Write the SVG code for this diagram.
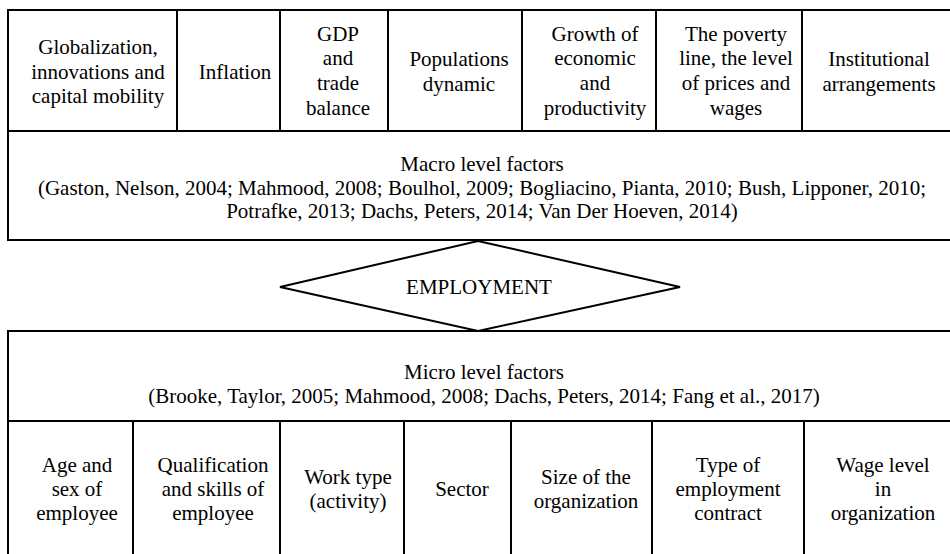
<svg xmlns="http://www.w3.org/2000/svg" width="950" height="554" viewBox="0 0 950 554">
<style>
.c{fill:#fff;stroke:#000;stroke-width:2}
.t{font-family:"Liberation Serif","Tinos","DejaVu Serif","Times New Roman",serif;font-size:21px;fill:#000;text-anchor:middle}
</style>
<rect x="0" y="0" width="950" height="554" fill="#fff"/>
<g id="macro-row">
<g id="n-globalization"><rect class="c" x="8" y="10" width="169" height="121"/>
<text class="t" x="98" y="54">Globalization,</text><text class="t" x="98" y="79">innovations and</text><text class="t" x="98" y="103">capital mobility</text></g>
<g id="n-inflation"><rect class="c" x="177" y="10" width="103" height="121"/>
<text class="t" x="235" y="79">Inflation</text></g>
<g id="n-gdp"><rect class="c" x="280" y="10" width="108" height="121"/>
<text class="t" x="338" y="41">GDP</text><text class="t" x="338" y="65">and</text><text class="t" x="338" y="90">trade</text><text class="t" x="338" y="115">balance</text></g>
<g id="n-population"><rect class="c" x="388" y="10" width="134" height="121"/>
<text class="t" x="459" y="66">Populations</text><text class="t" x="459" y="91">dynamic</text></g>
<g id="n-growth"><rect class="c" x="522" y="10" width="134" height="121"/>
<text class="t" x="595" y="41">Growth of</text><text class="t" x="595" y="65">economic</text><text class="t" x="595" y="90">and</text><text class="t" x="595" y="115">productivity</text></g>
<g id="n-poverty"><rect class="c" x="656" y="10" width="146" height="121"/>
<text class="t" x="736" y="41">The poverty</text><text class="t" x="736" y="65">line, the level</text><text class="t" x="736" y="90">of prices and</text><text class="t" x="736" y="115">wages</text></g>
<g id="n-institutional"><rect class="c" x="802" y="10" width="160" height="121"/>
<text class="t" x="879" y="66">Institutional</text><text class="t" x="879" y="91">arrangements</text></g>
</g>
<g id="n-macro"><rect class="c" x="8" y="131" width="954" height="109"/>
<text class="t" x="482" y="171">Macro level factors</text>
<text class="t" x="482" y="195">(Gaston, Nelson, 2004; Mahmood, 2008; Boulhol, 2009; Bogliacino, Pianta, 2010; Bush, Lipponer, 2010;</text>
<text class="t" x="482" y="218">Potrafke, 2013; Dachs, Peters, 2014; Van Der Hoeven, 2014)</text></g>
<g id="n-employment"><polygon class="c" points="280,287 478,241 680,287 478,331"/>
<text class="t" x="479" y="294">EMPLOYMENT</text></g>
<g id="n-micro"><rect class="c" x="8" y="331" width="954" height="90"/>
<text class="t" x="484" y="379">Micro level factors</text>
<text class="t" x="484" y="403">(Brooke, Taylor, 2005; Mahmood, 2008; Dachs, Peters, 2014; Fang et al., 2017)</text></g>
<g id="micro-row">
<g id="n-age"><rect class="c" x="8" y="421" width="125" height="145"/>
<text class="t" x="77" y="472">Age and</text><text class="t" x="77" y="496">sex of</text><text class="t" x="77" y="520">employee</text></g>
<g id="n-qualification"><rect class="c" x="133" y="421" width="147" height="145"/>
<text class="t" x="213" y="472">Qualification</text><text class="t" x="213" y="496">and skills of</text><text class="t" x="213" y="520">employee</text></g>
<g id="n-worktype"><rect class="c" x="280" y="421" width="124" height="145"/>
<text class="t" x="348" y="484">Work type</text><text class="t" x="348" y="508">(activity)</text></g>
<g id="n-sector"><rect class="c" x="404" y="421" width="107" height="145"/>
<text class="t" x="462" y="496">Sector</text></g>
<g id="n-size"><rect class="c" x="511" y="421" width="141" height="145"/>
<text class="t" x="586" y="484">Size of the</text><text class="t" x="586" y="508">organization</text></g>
<g id="n-contract"><rect class="c" x="652" y="421" width="152" height="145"/>
<text class="t" x="728" y="472">Type of</text><text class="t" x="728" y="496">employment</text><text class="t" x="728" y="520">contract</text></g>
<g id="n-wage"><rect class="c" x="804" y="421" width="158" height="145"/>
<text class="t" x="883" y="472">Wage level</text><text class="t" x="883" y="496">in</text><text class="t" x="883" y="520">organization</text></g>
</g>
<g id="connectors"></g>
</svg>
